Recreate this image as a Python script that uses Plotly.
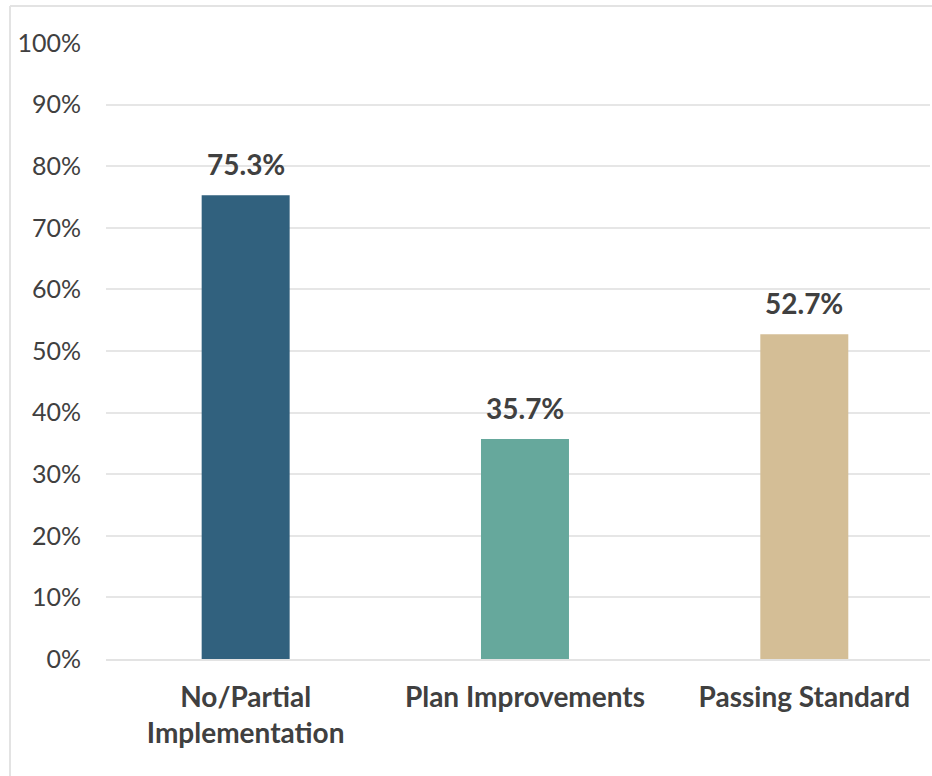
import plotly.graph_objects as go

categories = ["No/Partial<br>Implementation", "Plan Improvements", "Passing Standard"]
values = [75.3, 35.7, 52.7]
colors = ["#31617E", "#66A89C", "#D4BE96"]
y_ticks = list(range(0, 101, 10))
y_tick_labels = [f"{t}%" for t in y_ticks]

W, H = 932, 776
left, right, top, bottom = 106, 930, 43, 659

fig = go.Figure()
fig.add_trace(go.Bar(
    x=categories, y=values, marker=dict(color=colors, line=dict(width=0)),
    width=0.315, hoverinfo="skip",
))
for c, v in zip(categories, values):
    fig.add_annotation(x=c, y=v, text=f"<b>{v:.1f}%</b>", showarrow=False,
                       yanchor="bottom", yshift=12,
                       font=dict(family="Lato", size=28, color="#404040"))

fig.update_layout(
    width=W, height=H, margin=dict(l=0, r=0, t=0, b=0, autoexpand=False),
    paper_bgcolor="white", plot_bgcolor="white", showlegend=False,
    font=dict(family="Lato", color="#404040"),
    xaxis=dict(domain=[left / W, right / W], range=[-0.5, 2.45], automargin=False,
               showgrid=False, showline=True, linecolor="#E3E3E3", linewidth=2,
               ticks="", tickfont=dict(size=28, color="#404040", family="Lato"),
               ticklabelstandoff=12, tickprefix="<b>", ticksuffix="</b>"),
    yaxis=dict(domain=[1 - bottom / H, 1 - top / H], range=[0, 100], automargin=False,
               tickvals=y_ticks, ticktext=y_tick_labels,
               showgrid=True, gridcolor="#E6E6E6", gridwidth=1.5,
               zeroline=False, showline=False, ticks="",
               tickfont=dict(size=25, color="#404040", family="Lato"),
               ticklabelstandoff=24),
    shapes=[
        dict(type="line", xref="paper", yref="paper", x0=10 / W, x1=1.02, y0=1 - 6 / H, y1=1 - 6 / H,
             line=dict(color="#E3E3E3", width=2)),
        dict(type="line", xref="paper", yref="paper", x0=10 / W, x1=10 / W, y0=-0.02, y1=1 - 6 / H,
             line=dict(color="#E3E3E3", width=2)),
    ],
)
fig.write_html("out.html")
